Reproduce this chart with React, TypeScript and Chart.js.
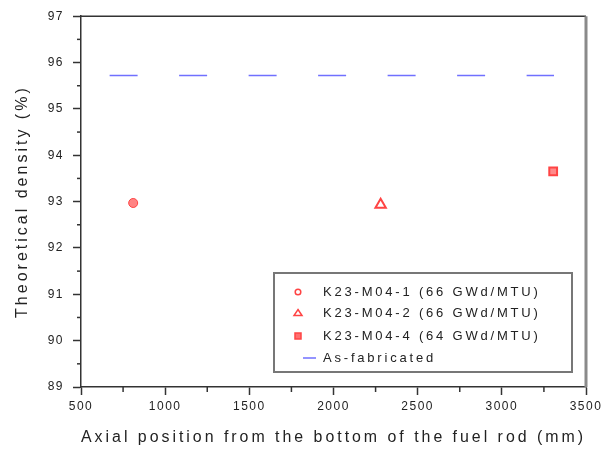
import React, { useEffect, useRef } from 'react';
import { Chart, registerables } from 'chart.js';

Chart.register(...registerables);

// ---- data ----
const seriesLabels = [
  'K23-M04-1 (66 GWd/MTU)',
  'K23-M04-2 (66 GWd/MTU)',
  'K23-M04-4 (64 GWd/MTU)',
  'As-fabricated',
];
const xM041 = [810];
const yM041 = [92.97];
const xM042 = [2280];
const yM042 = [92.93];
const xM044 = [3305];
const yM044 = [93.65];
const xFab = [670, 3310];
const yFab = [95.72, 95.72];

const xTicks = [500, 1000, 1500, 2000, 2500, 3000, 3500];
const yTicks = [89, 90, 91, 92, 93, 94, 95, 96, 97];

const xTitle = 'Axial position from the bottom of the fuel rod (mm)';
const yTitle = 'Theoretical density (%)';

const FONT = "'Liberation Sans', Arial, sans-serif";
const RED = '#ff4444';
const BLUE = '#7070ff';
const AXIS = '#333333';

const toPts = (xs: number[], ys: number[]) => xs.map((x, i) => ({ x, y: ys[i] }));

const framePlugin = {
  id: 'framePlugin',
  beforeDraw(chart: any) {
    chart.ctx.letterSpacing = '3px';
  },
  beforeDatasetsDraw(chart: any) {
    chart.ctx.letterSpacing = '0px';
  },
  afterDatasetsDraw(chart: any) {
    chart.ctx.letterSpacing = '1.5px';
  },
  afterDraw(chart: any) {
    const ctx = chart.ctx;
    const ca = chart.chartArea;
    const xs = chart.scales.x;
    const ys = chart.scales.y;
    ctx.save();
    ctx.letterSpacing = '0px';
    // minor ticks
    ctx.strokeStyle = AXIS;
    ctx.lineWidth = 1.5;
    for (let i = 0; i < xTicks.length - 1; i++) {
      const px = xs.getPixelForValue((xTicks[i] + xTicks[i + 1]) / 2);
      ctx.beginPath();
      ctx.moveTo(px, ca.bottom);
      ctx.lineTo(px, ca.bottom + 5);
      ctx.stroke();
    }
    for (let i = 0; i < yTicks.length - 1; i++) {
      const py = ys.getPixelForValue((yTicks[i] + yTicks[i + 1]) / 2);
      ctx.beginPath();
      ctx.moveTo(ca.left, py);
      ctx.lineTo(ca.left - 4, py);
      ctx.stroke();
    }
    // top frame
    ctx.beginPath();
    ctx.moveTo(ca.left, ca.top);
    ctx.lineTo(ca.right, ca.top);
    ctx.stroke();
    // right frame
    ctx.strokeStyle = '#8a8a8a';
    ctx.lineWidth = 3;
    ctx.beginPath();
    ctx.moveTo(ca.right, ca.top);
    ctx.lineTo(ca.right, ca.bottom);
    ctx.stroke();

    // legend box
    const bx = ca.right - 312;
    const by = ca.bottom - 114;
    const bw = 298;
    const bh = 99;
    ctx.fillStyle = '#ffffff';
    ctx.fillRect(bx, by, bw, bh);
    ctx.strokeStyle = '#777777';
    ctx.lineWidth = 2;
    ctx.strokeRect(bx, by, bw, bh);

    const rows = [19, 40, 63, 85];
    const mx = bx + 24;
    // circle
    ctx.strokeStyle = RED;
    ctx.lineWidth = 1.5;
    ctx.beginPath();
    ctx.arc(mx, by + rows[0], 2.8, 0, Math.PI * 2);
    ctx.stroke();
    // triangle
    ctx.beginPath();
    ctx.moveTo(mx, by + rows[1] - 3.5);
    ctx.lineTo(mx + 4, by + rows[1] + 2.5);
    ctx.lineTo(mx - 4, by + rows[1] + 2.5);
    ctx.closePath();
    ctx.stroke();
    // square
    ctx.fillStyle = '#ff7070';
    ctx.fillRect(mx - 3, by + rows[2] - 3, 6, 6);
    ctx.strokeRect(mx - 3, by + rows[2] - 3, 6, 6);
    // line
    ctx.strokeStyle = BLUE;
    ctx.lineWidth = 1.5;
    ctx.beginPath();
    ctx.moveTo(bx + 29, by + rows[3]);
    ctx.lineTo(bx + 42, by + rows[3]);
    ctx.stroke();

    ctx.fillStyle = '#222222';
    ctx.font = `13px ${FONT}`;
    ctx.letterSpacing = '2.8px';
    ctx.textAlign = 'left';
    ctx.textBaseline = 'middle';
    seriesLabels.forEach((t, i) => {
      ctx.fillText(t, bx + 49, by + rows[i]);
    });
    ctx.restore();
  },
};

export default function App() {
  const ref = useRef<HTMLCanvasElement | null>(null);

  useEffect(() => {
    document.body.style.margin = '0';
    const canvas = ref.current!;
    const chart = new Chart(canvas, {
      type: 'scatter',
      data: {
        datasets: [
          {
            label: seriesLabels[0],
            data: toPts(xM041, yM041),
            pointStyle: 'circle',
            pointRadius: 4.5,
            borderColor: RED,
            backgroundColor: 'rgba(255,110,110,0.85)',
            borderWidth: 1,
          },
          {
            label: seriesLabels[1],
            data: toPts(xM042, yM042),
            pointStyle: 'triangle',
            pointRadius: 6,
            borderColor: RED,
            backgroundColor: '#ffffff',
            borderWidth: 2,
          },
          {
            label: seriesLabels[2],
            data: toPts(xM044, yM044),
            pointStyle: 'rect',
            pointRadius: 5.5,
            borderColor: RED,
            backgroundColor: '#ff8a8a',
            borderWidth: 2,
          },
          {
            label: seriesLabels[3],
            data: toPts(xFab, yFab),
            showLine: true,
            pointRadius: 0,
            borderColor: BLUE,
            backgroundColor: BLUE,
            borderWidth: 1.5,
            borderDash: [28, 41.5],
          } as any,
        ],
      },
      options: {
        animation: false,
        responsive: false,
        devicePixelRatio: 1,
        layout: { padding: { left: 0, top: 16, right: 18, bottom: 0 } },
        plugins: {
          legend: { display: false },
          tooltip: { enabled: false },
        },
        scales: {
          x: {
            type: 'linear',
            min: 500,
            max: 3500,
            afterBuildTicks: (s: any) => {
              s.ticks = xTicks.map((v) => ({ value: v }));
            },
            afterFit: (s: any) => {
              s.height = 69;
            },
            ticks: {
              z: 1,
              color: '#222222',
              font: { family: FONT, size: 12 },
              padding: 4,
              maxRotation: 0,
              autoSkip: false,
              callback: (v: any) => String(v),
            },
            grid: {
              display: true,
              drawOnChartArea: false,
              drawTicks: true,
              tickLength: 8,
              tickColor: AXIS,
              tickWidth: 1.5,
            },
            border: { display: true, color: AXIS, width: 1.5 },
            title: {
              display: true,
              text: xTitle,
              color: '#222222',
              font: { family: FONT, size: 16 },
              padding: { top: 0, bottom: 8.4 },
            },
          },
          y: {
            type: 'linear',
            min: 89,
            max: 97,
            afterBuildTicks: (s: any) => {
              s.ticks = yTicks.map((v) => ({ value: v }));
            },
            afterFit: (s: any) => {
              s.width = 81;
            },
            ticks: {
              z: 1,
              color: '#222222',
              font: { family: FONT, size: 12 },
              padding: 9,
              callback: (v: any) => String(v),
            },
            grid: {
              display: true,
              drawOnChartArea: false,
              drawTicks: true,
              tickLength: 8,
              tickColor: AXIS,
              tickWidth: 1.5,
            },
            border: { display: true, color: AXIS, width: 1.5 },
            title: {
              display: true,
              text: yTitle,
              color: '#222222',
              font: { family: FONT, size: 16 },
              padding: { top: 13.4, bottom: 0 },
            },
          },
        },
      } as any,
      plugins: [framePlugin],
    });
    return () => chart.destroy();
  }, []);

  return (
    <div style={{ position: 'absolute', left: 0, top: 0, width: 604, height: 456, background: '#fff' }}>
      <canvas ref={ref} width={604} height={456} style={{ display: 'block' }} />
    </div>
  );
}
